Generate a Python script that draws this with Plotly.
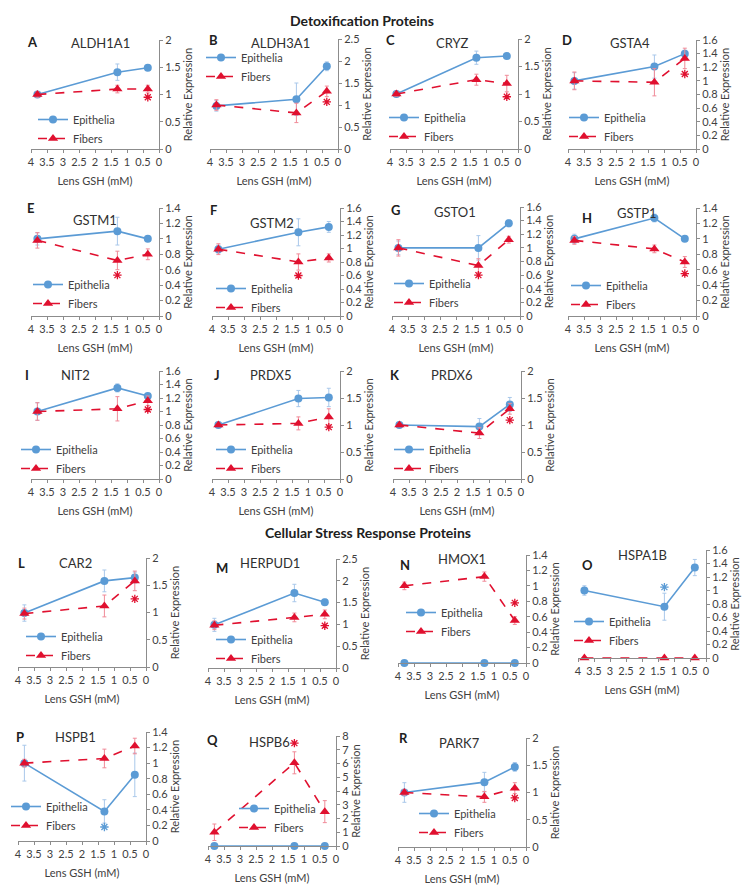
import plotly.graph_objects as go

# ---------------- data ----------------
gsh_mM = [3.8, 1.3, 0.35]
genes = ["ALDH1A1", "ALDH3A1", "CRYZ", "GSTA4", "GSTM1", "GSTM2", "GSTO1", "GSTP1",
         "NIT2", "PRDX5", "PRDX6", "CAR2", "HERPUD1", "HMOX1", "HSPA1B", "HSPB1",
         "HSPB6", "PARK7"]
letters = ["A", "B", "C", "D", "E", "F", "G", "H", "I", "J", "K", "L", "M", "N", "O",
           "P", "Q", "R"]
epithelia = [
    [1.00, 1.41, 1.49], [0.98, 1.13, 1.88], [1.00, 1.66, 1.69], [1.00, 1.21, 1.40],
    [1.00, 1.10, 1.00], [0.99, 1.24, 1.32], [1.00, 1.00, 1.36], [1.00, 1.27, 1.00],
    [1.00, 1.35, 1.23], [1.00, 1.49, 1.51], [1.00, 0.97, 1.38], [0.99, 1.58, 1.64],
    [0.99, 1.72, 1.51], [0.00, 0.00, 0.00], [1.00, 0.76, 1.34], [1.00, 0.38, 0.85],
    [0.00, 0.00, 0.00], [1.00, 1.19, 1.47],
]
epithelia_err = [
    [0.05, 0.15, 0.05], [0.12, 0.37, 0.10], [0.04, 0.12, 0.03], [0.12, 0.17, 0.05],
    [0.08, 0.18, 0.03], [0.06, 0.20, 0.08], [0.10, 0.18, 0.05], [0.06, 0.05, 0.02],
    [0.13, 0.06, 0.03], [0.03, 0.15, 0.17], [0.03, 0.15, 0.13], [0.15, 0.20, 0.10],
    [0.15, 0.20, 0.07], [0.00, 0.00, 0.00], [0.07, 0.20, 0.12], [0.23, 0.15, 0.28],
    [0.00, 0.00, 0.00], [0.18, 0.18, 0.08],
]
fibers = [
    [1.00, 1.10, 1.10], [1.00, 0.82, 1.31], [1.00, 1.26, 1.19], [1.00, 0.98, 1.33],
    [0.98, 0.72, 0.80], [0.99, 0.80, 0.86], [1.00, 0.74, 1.12], [0.98, 0.87, 0.70],
    [1.00, 1.04, 1.16], [1.00, 1.03, 1.15], [1.00, 0.85, 1.30], [0.98, 1.12, 1.58],
    [0.98, 1.16, 1.23], [1.00, 1.12, 0.55], [0.00, 0.00, 0.00], [1.00, 1.06, 1.22],
    [1.00, 6.05, 2.50], [1.00, 0.92, 1.08],
]
fibers_err = [
    [0.05, 0.07, 0.07], [0.12, 0.22, 0.12], [0.04, 0.10, 0.15], [0.13, 0.20, 0.15],
    [0.10, 0.12, 0.07], [0.08, 0.12, 0.06], [0.12, 0.10, 0.05], [0.05, 0.05, 0.07],
    [0.13, 0.18, 0.07], [0.03, 0.12, 0.15], [0.03, 0.10, 0.10], [0.10, 0.20, 0.18],
    [0.10, 0.10, 0.10], [0.05, 0.06, 0.05], [0.00, 0.00, 0.00], [0.05, 0.12, 0.10],
    [0.60, 0.80, 0.80], [0.05, 0.10, 0.10],
]
y_max = [2, 2.5, 2, 1.6, 1.4, 1.6, 1.6, 1.4, 1.6, 2, 2, 2, 2.5, 1.4, 1.6, 1.4, 8, 2]
y_step = [0.5, 0.5, 0.5, 0.2, 0.2, 0.2, 0.2, 0.2, 0.2, 0.5, 0.5, 0.5, 0.5, 0.2, 0.2,
          0.2, 1, 0.5]
# significance asterisks: panel index, GSH point index, value, group
sig_panel = [0, 1, 2, 3, 4, 5, 6, 7, 8, 9, 10, 11, 12, 13, 14, 15, 15, 16, 17]
sig_point = [2, 2, 2, 2, 1, 1, 1, 2, 2, 2, 2, 2, 2, 2, 1, 2, 1, 1, 2]
sig_value = [0.95, 1.07, 0.95, 1.10, 0.53, 0.60, 0.60, 0.55, 1.03, 0.96, 1.09, 1.25,
             0.97, 0.78, 1.05, 1.41, 0.18, 7.48, 0.90]
sig_group = ["F", "F", "F", "F", "F", "F", "F", "F", "F", "F", "F", "F", "F", "F",
             "E", "F", "E", "F", "F"]

# ---------------- layout geometry (page pixels) ----------------
PAGE_W, PAGE_H = 754, 893
OFF = 8                      # default page margin around the plot div
W, H = PAGE_W - OFF, PAGE_H - OFF


def px2x(px):
    return (px - OFF) / W


def px2y(py):
    return 1 - (py - OFF) / H


px_left = [31, 210, 390, 568, 31, 212, 392, 568, 31, 212, 393, 18, 208, 398, 578, 18, 208, 398]
px_width = 128
px_top = [40, 39, 39, 40, 208, 208, 207, 208, 371, 371, 371, 558, 559, 555, 550, 732, 736, 738]
px_bot = [149, 149, 149, 149, 316, 316, 316, 316, 479, 479, 479, 667, 668, 663, 658, 841, 846, 847]
leg_x = [52, 220, 403, 583, 47, 230, 408, 585, 35, 230, 408, 40, 230, 420, 588, 25, 253, 433]
leg_y = [123, 61, 121, 121, 288, 292, 287, 289, 453, 453, 453, 640, 643, 616, 625, 810, 812, 817]
gene_x = [100, 280, 453, 630, 95, 272, 455, 637, 75, 270, 452, 75, 270, 462, 642, 75, 269, 460]
gene_y = [43, 43, 43, 43, 220, 223, 212, 213, 375, 375, 375, 563, 563, 559, 555, 737, 742, 743]
letter_x = [32, 213, 390, 567, 30, 213, 395, 587, 27, 217, 395, 22, 222, 405, 587, 20, 212, 403]
letter_y = [42, 40, 40, 40, 208, 210, 210, 218, 375, 375, 375, 563, 568, 565, 565, 737, 740, 738]

BLUE = "#5B9BD5"
BLUE_ERR = "#A9C8EA"
RED = "#E0102F"
RED_ERR = "#F08A98"
AXIS = "#8C8C8C"
FONT = "Lato, Open Sans, sans-serif"

fig = go.Figure()
layout = dict(
    width=W, height=H, margin=dict(l=0, r=0, t=0, b=0, autoexpand=False),
    paper_bgcolor="white", plot_bgcolor="white",
    font=dict(family=FONT, size=11, color="#404040"),
    annotations=[],
)

for i in range(18):
    n = i + 1
    sfx = "" if n == 1 else str(n)
    xa, ya, leg = "x" + sfx, "y" + sfx, "legend" + sfx
    fig.add_trace(go.Scatter(
        x=gsh_mM, y=epithelia[i], xaxis=xa, yaxis=ya, legend=leg, name="Epithelia",
        mode="lines+markers", line=dict(color=BLUE, width=1.6),
        marker=dict(symbol="circle", size=8, color=BLUE),
        error_y=dict(type="data", array=epithelia_err[i], color=BLUE_ERR,
                     thickness=1, width=2, visible=any(epithelia_err[i])),
        cliponaxis=False))
    fig.add_trace(go.Scatter(
        x=gsh_mM, y=fibers[i], xaxis=xa, yaxis=ya, legend=leg, name="Fibers",
        mode="lines+markers", line=dict(color=RED, width=1.6, dash="dash"),
        marker=dict(symbol="triangle-up", size=9, color=RED),
        error_y=dict(type="data", array=fibers_err[i], color=RED_ERR,
                     thickness=1, width=2, visible=any(fibers_err[i])),
        cliponaxis=False))
    layout["xaxis" + sfx] = dict(
        domain=[px2x(px_left[i]), px2x(px_left[i] + px_width)], anchor=ya,
        range=[4, 0], tick0=0, dtick=0.5, automargin=False,
        showline=True, linecolor=AXIS, linewidth=1, ticks="outside", ticklen=3,
        tickcolor=AXIS, showgrid=False, zeroline=False,
        tickfont=dict(size=11, color="#404040"),
        title=dict(text="Lens GSH (mM)", font=dict(size=11, color="#404040"), standoff=10))
    layout["yaxis" + sfx] = dict(
        domain=[px2y(px_bot[i]), px2y(px_top[i])], anchor=xa, side="right",
        range=[0, y_max[i] + 1e-6], tick0=0, dtick=y_step[i], automargin=False,
        showline=True, linecolor=AXIS, linewidth=1, ticks="outside", ticklen=3,
        tickcolor=AXIS, showgrid=False, zeroline=False,
        tickfont=dict(size=11, color="#404040"),
        title=dict(text="Relative Expression", font=dict(size=11, color="#404040"), standoff=3))
    layout[leg] = dict(
        x=px2x(leg_x[i] - 19), y=px2y(leg_y[i] - 18), xanchor="left", yanchor="top",
        bgcolor="rgba(0,0,0,0)", itemwidth=30, tracegroupgap=0,
        font=dict(size=11, color="#404040"))
    layout["annotations"].append(dict(
        text=genes[i], x=px2x(gene_x[i]), y=px2y(gene_y[i]), xref="paper", yref="paper",
        showarrow=False, xanchor="center", yanchor="middle",
        font=dict(size=13, color="#303030")))
    layout["annotations"].append(dict(
        text="<b>" + letters[i] + "</b>", x=px2x(letter_x[i]), y=px2y(letter_y[i]),
        xref="paper", yref="paper", showarrow=False, xanchor="center", yanchor="middle",
        font=dict(size=13, color="#202020")))

# significance asterisks
for p in sorted(set(sig_panel)):
    sfx = "" if p == 0 else str(p + 1)
    ks = [k for k in range(len(sig_panel)) if sig_panel[k] == p]
    cols = [RED if sig_group[k] == "F" else BLUE for k in ks]
    fig.add_trace(go.Scatter(
        x=[gsh_mM[sig_point[k]] for k in ks], y=[sig_value[k] for k in ks],
        xaxis="x" + sfx, yaxis="y" + sfx, mode="markers", showlegend=False,
        marker=dict(symbol="asterisk-open", size=7, color=cols,
                    line=dict(width=1.3, color=cols)),
        cliponaxis=False))

layout["annotations"].append(dict(
    text="<b>Detoxification Proteins</b>", x=px2x(362), y=px2y(20), xref="paper",
    yref="paper", showarrow=False, xanchor="center", yanchor="middle",
    font=dict(size=14, color="#202020")))
layout["annotations"].append(dict(
    text="<b>Cellular Stress Response Proteins</b>", x=px2x(368), y=px2y(532),
    xref="paper", yref="paper", showarrow=False, xanchor="center", yanchor="middle",
    font=dict(size=14, color="#202020")))

fig.update_layout(**layout)
fig.write_html("out.html")
